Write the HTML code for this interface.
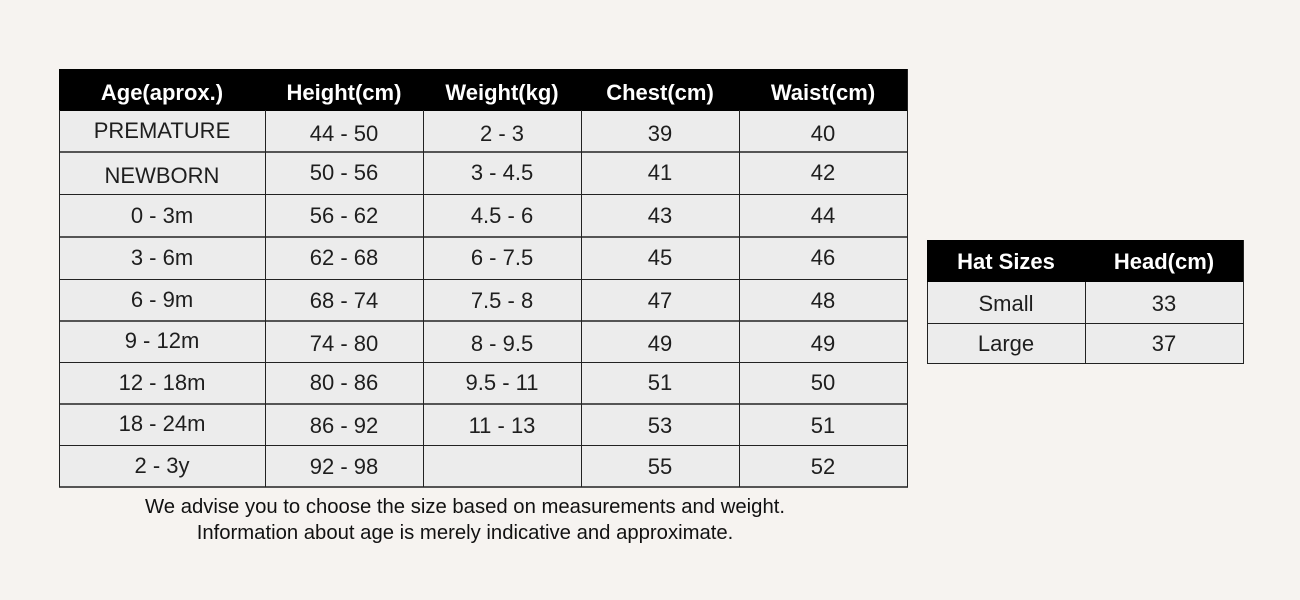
<!DOCTYPE html>
<html>
<head>
<meta charset="utf-8">
<style>
html,body{margin:0;padding:0;}
body{width:1300px;height:600px;background:#f6f3f0;position:relative;overflow:hidden;font-family:"Liberation Sans",sans-serif;}
.hdr{position:absolute;background:#000;}
.cellbg{position:absolute;background:#ececec;}
.h{position:absolute;height:2px;background:#555;}
.h1{position:absolute;height:1px;background:#222;}
.v{position:absolute;width:1px;background:#222;}
.t{position:absolute;text-align:center;color:#1e1e1e;font-size:22px;line-height:22px;white-space:nowrap;}
.th{position:absolute;text-align:center;color:#fff;font-size:22px;font-weight:bold;line-height:22px;white-space:nowrap;}
.foot{position:absolute;left:0;width:930px;text-align:center;color:#111;font-size:20.3px;line-height:20px;white-space:nowrap;}
</style>
</head>
<body>
<!-- Main table -->
<div class="hdr" style="left:59px;top:69px;width:849px;height:42px;"></div>
<div class="cellbg" style="left:59px;top:111px;width:849px;height:376px;"></div>
<!-- horizontal lines -->
<div class="h" style="left:59px;top:151px;width:849px;"></div>
<div class="h1" style="left:59px;top:194px;width:849px;"></div>
<div class="h" style="left:59px;top:236px;width:849px;"></div>
<div class="h1" style="left:59px;top:279px;width:849px;"></div>
<div class="h" style="left:59px;top:320px;width:849px;"></div>
<div class="h1" style="left:59px;top:362px;width:849px;"></div>
<div class="h" style="left:59px;top:403px;width:849px;"></div>
<div class="h1" style="left:59px;top:445px;width:849px;"></div>
<div class="h" style="left:59px;top:486px;width:849px;"></div>
<!-- vertical lines -->
<div class="v" style="left:59px;top:110px;height:377px;"></div>
<div class="v" style="left:265px;top:110px;height:377px;"></div>
<div class="v" style="left:423px;top:110px;height:377px;"></div>
<div class="v" style="left:581px;top:110px;height:377px;"></div>
<div class="v" style="left:739px;top:110px;height:377px;"></div>
<div class="v" style="left:907px;top:69px;height:418px;"></div>

<!-- header text -->
<div class="th" style="left:59px;width:206px;top:82px;">Age(aprox.)</div>
<div class="th" style="left:265px;width:158px;top:82px;">Height(cm)</div>
<div class="th" style="left:423px;width:158px;top:82px;">Weight(kg)</div>
<div class="th" style="left:581px;width:158px;top:82px;">Chest(cm)</div>
<div class="th" style="left:739px;width:168px;top:82px;">Waist(cm)</div>

<!-- rows -->
<div class="t" style="left:59px;width:206px;top:120px;">PREMATURE</div>
<div class="t" style="left:265px;width:158px;top:123px;">44 - 50</div>
<div class="t" style="left:423px;width:158px;top:123px;">2 - 3</div>
<div class="t" style="left:581px;width:158px;top:123px;">39</div>
<div class="t" style="left:739px;width:168px;top:123px;">40</div>

<div class="t" style="left:59px;width:206px;top:165px;">NEWBORN</div>
<div class="t" style="left:265px;width:158px;top:162px;">50 - 56</div>
<div class="t" style="left:423px;width:158px;top:162px;">3 - 4.5</div>
<div class="t" style="left:581px;width:158px;top:162px;">41</div>
<div class="t" style="left:739px;width:168px;top:162px;">42</div>

<div class="t" style="left:59px;width:206px;top:205px;">0 - 3m</div>
<div class="t" style="left:265px;width:158px;top:205px;">56 - 62</div>
<div class="t" style="left:423px;width:158px;top:205px;">4.5 - 6</div>
<div class="t" style="left:581px;width:158px;top:205px;">43</div>
<div class="t" style="left:739px;width:168px;top:205px;">44</div>

<div class="t" style="left:59px;width:206px;top:247px;">3 - 6m</div>
<div class="t" style="left:265px;width:158px;top:247px;">62 - 68</div>
<div class="t" style="left:423px;width:158px;top:247px;">6 - 7.5</div>
<div class="t" style="left:581px;width:158px;top:247px;">45</div>
<div class="t" style="left:739px;width:168px;top:247px;">46</div>

<div class="t" style="left:59px;width:206px;top:289px;">6 - 9m</div>
<div class="t" style="left:265px;width:158px;top:290px;">68 - 74</div>
<div class="t" style="left:423px;width:158px;top:290px;">7.5 - 8</div>
<div class="t" style="left:581px;width:158px;top:290px;">47</div>
<div class="t" style="left:739px;width:168px;top:290px;">48</div>

<div class="t" style="left:59px;width:206px;top:330px;">9 - 12m</div>
<div class="t" style="left:265px;width:158px;top:333px;">74 - 80</div>
<div class="t" style="left:423px;width:158px;top:333px;">8 - 9.5</div>
<div class="t" style="left:581px;width:158px;top:333px;">49</div>
<div class="t" style="left:739px;width:168px;top:333px;">49</div>

<div class="t" style="left:59px;width:206px;top:372px;">12 - 18m</div>
<div class="t" style="left:265px;width:158px;top:372px;">80 - 86</div>
<div class="t" style="left:423px;width:158px;top:372px;">9.5 - 11</div>
<div class="t" style="left:581px;width:158px;top:372px;">51</div>
<div class="t" style="left:739px;width:168px;top:372px;">50</div>

<div class="t" style="left:59px;width:206px;top:413px;">18 - 24m</div>
<div class="t" style="left:265px;width:158px;top:415px;">86 - 92</div>
<div class="t" style="left:423px;width:158px;top:415px;">11 - 13</div>
<div class="t" style="left:581px;width:158px;top:415px;">53</div>
<div class="t" style="left:739px;width:168px;top:415px;">51</div>

<div class="t" style="left:59px;width:206px;top:455px;">2 - 3y</div>
<div class="t" style="left:265px;width:158px;top:456px;">92 - 98</div>
<div class="t" style="left:581px;width:158px;top:456px;">55</div>
<div class="t" style="left:739px;width:168px;top:456px;">52</div>

<!-- footer -->
<div class="foot" style="top:497px;">We advise you to choose the size based on measurements and weight.</div>
<div class="foot" style="top:523px;">Information about age is merely indicative and approximate.</div>

<!-- Hat table -->
<div class="hdr" style="left:927px;top:240px;width:317px;height:42px;"></div>
<div class="cellbg" style="left:927px;top:282px;width:317px;height:82px;"></div>
<div class="h1" style="left:927px;top:323px;width:317px;"></div>
<div class="h1" style="left:927px;top:363px;width:317px;"></div>
<div class="v" style="left:927px;top:282px;height:82px;"></div>
<div class="v" style="left:1085px;top:282px;height:82px;"></div>
<div class="v" style="left:1243px;top:240px;height:124px;"></div>
<div class="th" style="left:927px;width:158px;top:251px;">Hat Sizes</div>
<div class="th" style="left:1085px;width:158px;top:251px;">Head(cm)</div>
<div class="t" style="left:927px;width:158px;top:293px;">Small</div>
<div class="t" style="left:1085px;width:158px;top:293px;">33</div>
<div class="t" style="left:927px;width:158px;top:333px;">Large</div>
<div class="t" style="left:1085px;width:158px;top:333px;">37</div>
</body>
</html>
